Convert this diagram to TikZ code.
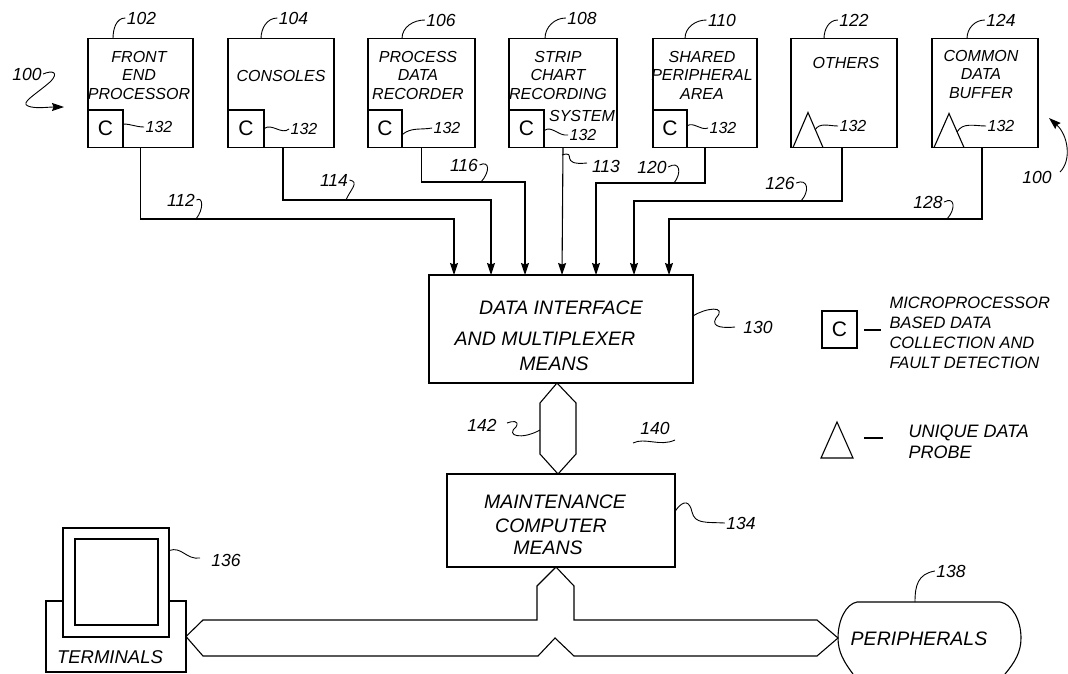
\documentclass[tikz,border=0pt]{standalone}
\usepackage{fontspec}
\setmainfont{Liberation Sans}
\usetikzlibrary{positioning,arrows.meta,calc}

\begin{document}
\begin{tikzpicture}[x=1pt,y=-1pt,>={Stealth[length=12pt,width=8pt,inset=1.5pt]},line width=1.1pt,
    blockbox/.style={rectangle,draw,outer sep=0pt,minimum height=109pt},
    cbox/.style={rectangle,draw,outer sep=0pt,anchor=south west,minimum height=37.5pt,font=\fontsize{21}{21}\selectfont},
    boxtext/.style={align=center,inner sep=0pt,font=\fontsize{16}{18.5}\selectfont\itshape},
    bigtext/.style={inner sep=0pt,font=\fontsize{19.5}{22}\selectfont\itshape},
    refnum/.style={inner sep=1pt,font=\fontsize{17.5}{17.5}\selectfont\itshape},
    subnum/.style={inner sep=1pt,font=\fontsize{16}{16}\selectfont\itshape},
    sigline/.style={->},
    leader/.style={line width=0.9pt}]

\useasboundingbox (0,0) rectangle (1068,673);

% source blocks
\node[blockbox,minimum width=105pt]  (fep)  at (140.5,93) {};
\node[blockbox,minimum width=106pt]  (cons) [right=35pt of fep]  {};
\node[blockbox,minimum width=107pt]  (pdr)  [right=34pt of cons] {};
\node[blockbox,minimum width=108pt]  (scr)  [right=34pt of pdr]  {};
\node[blockbox,minimum width=104pt]  (spa)  [right=36pt of scr]  {};
\node[blockbox,minimum width=106pt]  (oth)  [right=34pt of spa]  {};
\node[blockbox,minimum width=106pt]  (cdb)  [right=35pt of oth]  {};

\node[boxtext] (fep text)  at (139,75)  {FRONT\\END\\PROCESSOR};
\node[boxtext] (cons text) at (281,76)  {CONSOLES};
\node[boxtext] (pdr text)  at (418,75)  {PROCESS\\DATA\\RECORDER};
\node[boxtext] (scr text)  at (558,75)  {STRIP\\CHART\\RECORDING};
\node[boxtext] (scr sys)   at (582,116) {SYSTEM};
\node[boxtext] (spa text)  at (702,75)  {SHARED\\PERIPHERAL\\AREA};
\node[boxtext] (oth text)  at (846,63)  {OTHERS};
\node[boxtext] (cdb text)  at (981,74)  {COMMON\\DATA\\BUFFER};

\node[cbox,minimum width=35pt] (fep c)  at (fep.south west)  {C};
\node[cbox,minimum width=36pt] (cons c) at (cons.south west) {C};
\node[cbox,minimum width=34pt] (pdr c)  at (pdr.south west)  {C};
\node[cbox,minimum width=35pt] (scr c)  at (scr.south west)  {C};
\node[cbox,minimum width=34pt] (spa c)  at (spa.south west)  {C};

\draw ([xshift=2pt]oth.south west) -- ([xshift=17pt,yshift=35pt]oth.south west) -- ([xshift=32pt]oth.south west);
\draw ([xshift=2pt]cdb.south west) -- ([xshift=17pt,yshift=34pt]cdb.south west) -- ([xshift=32pt]cdb.south west);

% middle blocks
\node[blockbox,minimum width=264pt,minimum height=108pt] (dim) at (561,329) {};
\node[blockbox,minimum width=228pt,minimum height=93pt]  (mcm) [below=91pt of dim] {};

\node[bigtext] (dim a) at (561,308) {DATA INTERFACE};
\node[bigtext] (dim b) at (545,339) {AND MULTIPLEXER};
\node[bigtext] (dim c) at (554,364) {MEANS};
\node[bigtext] (mcm a) at (555,502) {MAINTENANCE};
\node[bigtext] (mcm b) at (551,526) {COMPUTER};
\node[bigtext] (mcm c) at (548,548) {MEANS};

% inputs of the interface
\coordinate (in1) at ([xshift=25pt]dim.north west);
\coordinate (in2) at ([xshift=62pt]dim.north west);
\coordinate (in3) at ([xshift=96pt]dim.north west);
\coordinate (in4) at ([xshift=133pt]dim.north west);
\coordinate (in5) at ([xshift=167pt]dim.north west);
\coordinate (in6) at ([xshift=205pt]dim.north west);
\coordinate (in7) at ([xshift=240pt]dim.north west);

\draw[sigline] (fep.south) -- ++(0,71.5) -| (in1);
\draw[sigline] ([xshift=2pt]cons.south) -- ++(0,52.5) -| (in2);
\draw[sigline] (pdr.south) -- ++(0,34.5) -| (in3);
\draw[sigline] (scr.south) -- (in4);
\draw[sigline] (spa.south) -- ++(0,35.5) -| (in5);
\draw[sigline] ([xshift=-2pt]oth.south) -- ++(0,53.5) -| (in6);
\draw[sigline] ([xshift=-3pt]cdb.south) -- ++(0,71.5) -| (in7);

% terminals
\node[rectangle,draw,outer sep=0pt,minimum width=140pt,minimum height=71pt] (base) at (116,636.5) {};
\node[rectangle,draw,fill=white,outer sep=0pt,minimum width=106pt,minimum height=109pt] (mon) at (116,582.5) {};
\node[rectangle,draw,outer sep=0pt,minimum width=83pt,minimum height=86pt] (view) at (116.5,582) {};
\node[boxtext,font=\fontsize{18.5}{20}\selectfont\itshape] (term text) at (110,657) {TERMINALS};

% peripherals
\coordinate (per a) at (857,602);
\coordinate (per b) at (1000,602);
\coordinate (per l) at (838,638);
\coordinate (per r) at (1021,638);
\draw (853,674) .. controls (844,662) and (838,652) .. (per l) .. controls (838,620) and (846,604) .. (per a)
    -- (per b) .. controls (1012,604) and (1021,620) .. (per r) .. controls (1021,652) and (1015,662) .. (1005,674);
\node[bigtext] (per text) at (919,639) {PERIPHERALS};

% buses
\coordinate (hex top) at ([xshift=-4pt]dim.south);
\coordinate (hex bot) at ([xshift=-3pt]mcm.north);
\draw (hex top) -- (576,403) -- (576,454) -- (hex bot) -- (540,454) -- (540,403) -- cycle;

\coordinate (bus top) at ([xshift=-5pt]mcm.south);
\coordinate (bus l) at (base.east);
\coordinate (bus r) at (per l);
\draw (bus top) -- (574,586) -- (574,620) -- (817,620) -- (bus r) -- (817,656) -- (574,656)
    -- (555,638) -- (538,656) -- (203,656) -- (bus l) -- (203,620) -- (537,620) -- (537,586) -- cycle;

% numerals on the blocks
\node[refnum] (n102) at (141.5,18) {102};
\node[refnum] (n104) at (293.5,18) {104};
\node[refnum] (n106) at (441,20)   {106};
\node[refnum] (n108) at (582,18)   {108};
\node[refnum] (n110) at (722,20)   {110};
\node[refnum] (n122) at (854,20)   {122};
\node[refnum] (n124) at (1001,20)  {124};
\draw[leader] ([xshift=25pt]fep.north west)  to[out=90,in=180] (n102.west);
\draw[leader] ([xshift=33pt]cons.north west) to[out=90,in=180] (n104.west);
\draw[leader] ([xshift=34pt]pdr.north west)  to[out=90,in=180] (n106.west);
\draw[leader] ([xshift=36pt]scr.north west)  to[out=90,in=180] (n108.west);
\draw[leader] ([xshift=32pt]spa.north west)  to[out=90,in=180] (n110.west);
\draw[leader] ([xshift=33pt]oth.north west)  to[out=90,in=180] (n122.west);
\draw[leader] ([xshift=35pt]cdb.north west)  to[out=90,in=180] (n124.west);

\node[subnum] (a132) at (159,127) {132};
\node[subnum] (b132) at (304,129) {132};
\node[subnum] (c132) at (447,128) {132};
\node[subnum] (d132) at (583,135) {132};
\node[subnum] (e132) at (723,128) {132};
\node[subnum] (f132) at (853,126) {132};
\node[subnum] (g132) at (1001,126) {132};
\draw[leader] ([yshift=-14pt]fep c.north east) to[out=0,in=180] (a132.west);
\draw[leader] (cons c.east) to[out=40,in=220] (b132.west);
\draw[leader] ([yshift=-6pt]pdr c.east) to[out=40,in=190] (c132.west);
\draw[leader] ([yshift=-2pt]scr c.east) to[out=40,in=190] (d132.west);
\draw[leader] ([yshift=3pt]spa c.east) to[out=30,in=200] (e132.west);
\draw[leader] (815,130) to[out=60,in=180] (f132.west);
\draw[leader] (957,132) to[out=60,in=180] (g132.west);

% numerals on the lines
\node[refnum] (n112) at (181,200) {112};
\node[refnum] (n114) at (334,180) {114};
\node[refnum] (n116) at (464,165) {116};
\node[refnum] (n113) at (606,166) {113};
\node[refnum] (n120) at (652,167) {120};
\node[refnum] (n126) at (780,183) {126};
\node[refnum] (n128) at (928,202) {128};
\coordinate (t112) at (196,219);
\coordinate (t114) at (346,200);
\coordinate (t116) at (481,182);
\coordinate (t113) at (562,155);
\coordinate (e113) at (587,163);
\coordinate (t120) at (674,183);
\coordinate (t126) at (801,201);
\coordinate (t128) at (947,219);
\draw[leader] (t112) .. controls (204,209) and (203,196) .. (n112.east);
\draw[leader] (t114) .. controls (350,190) and (360,182) .. (n114.east);
\draw[leader] (t116) .. controls (490,172) and (490,160) .. (n116.east);
\draw[leader] (t113) .. controls (578,150) and (558,166) .. (e113);
\draw[leader] (t120) .. controls (682,173) and (680,160) .. (n120.east);
\draw[leader] (t126) .. controls (810,191) and (808,178) .. (n126.east);
\draw[leader] (t128) .. controls (956,209) and (955,196) .. (n128.east);

% numerals on the middle blocks
\node[refnum] (n130) at (758,327) {130};
\node[refnum] (n142) at (482,425) {142};
\node[refnum] (n140) at (655,428) {140};
\node[refnum] (n134) at (741,523) {134};
\node[refnum] (n136) at (226,560) {136};
\node[refnum] (n138) at (951,571) {138};
\coordinate (e130) at (735,327);
\coordinate (e142) at (507,423);
\coordinate (e136) at (200,558);
\draw[leader] ([yshift=13pt]dim.east) .. controls (705,308) and (728,305) .. (716,318) .. controls (710,328) and (725,328) .. (e130);
\draw[leader] (540,430) .. controls (522,440) and (505,436) .. (516,427) .. controls (520,420) and (512,421) .. (e142);
\draw[leader] (633,443) .. controls (645,437) and (660,447) .. (675,440);
\draw[leader] ([yshift=9pt]mcm.east) .. controls (684,498) and (690,502) .. (692,512) .. controls (695,524) and (705,522) .. (n134.west);
\draw[leader] ([yshift=32pt]mon.east) .. controls (182,546) and (186,560) .. (e136);
\draw[leader] (915,602) .. controls (915,585) and (918,574) .. (n138.west);

% the two numerals for the whole system
\node[refnum] (sys a) at (27,74)   {100};
\node[refnum] (sys b) at (1037,177) {100};
\coordinate (sys a tip) at (64,107);
\coordinate (sys b tip) at (1049,118);
\draw[leader] (sys a.east) .. controls (52,70) and (60,72) .. (50,82) .. controls (35,95) and (20,103) .. (28,106);
\draw[->,leader] (28,106) .. controls (35,109) and (48,107) .. (sys a tip);
\draw[->,leader] (1060,172) .. controls (1072,160) and (1068,135) .. (sys b tip);

% legend
\node[rectangle,draw,outer sep=0pt,minimum width=35pt,minimum height=37pt,font=\fontsize{21}{21}\selectfont] (key c) at (839.5,329.5) {C};
\coordinate (key a) at (864,330);
\coordinate (key b) at (881,330);
\draw (key a) -- (key b);
\node[boxtext,align=left,anchor=west,font=\fontsize{16.5}{20}\selectfont\itshape] (key c text) at (889,333)
    {MICROPROCESSOR\\BASED DATA\\COLLECTION AND\\FAULT DETECTION};
\coordinate (key d) at (864,438);
\coordinate (key e) at (883,438);
\draw (821,458) -- (837,422) -- (853,458) -- cycle;
\draw (key d) -- (key e);
\node[boxtext,align=left,anchor=west,font=\fontsize{18}{21}\selectfont\itshape] (key p text) at (908,441.5)
    {UNIQUE DATA\\PROBE};

\end{tikzpicture}
\end{document}
